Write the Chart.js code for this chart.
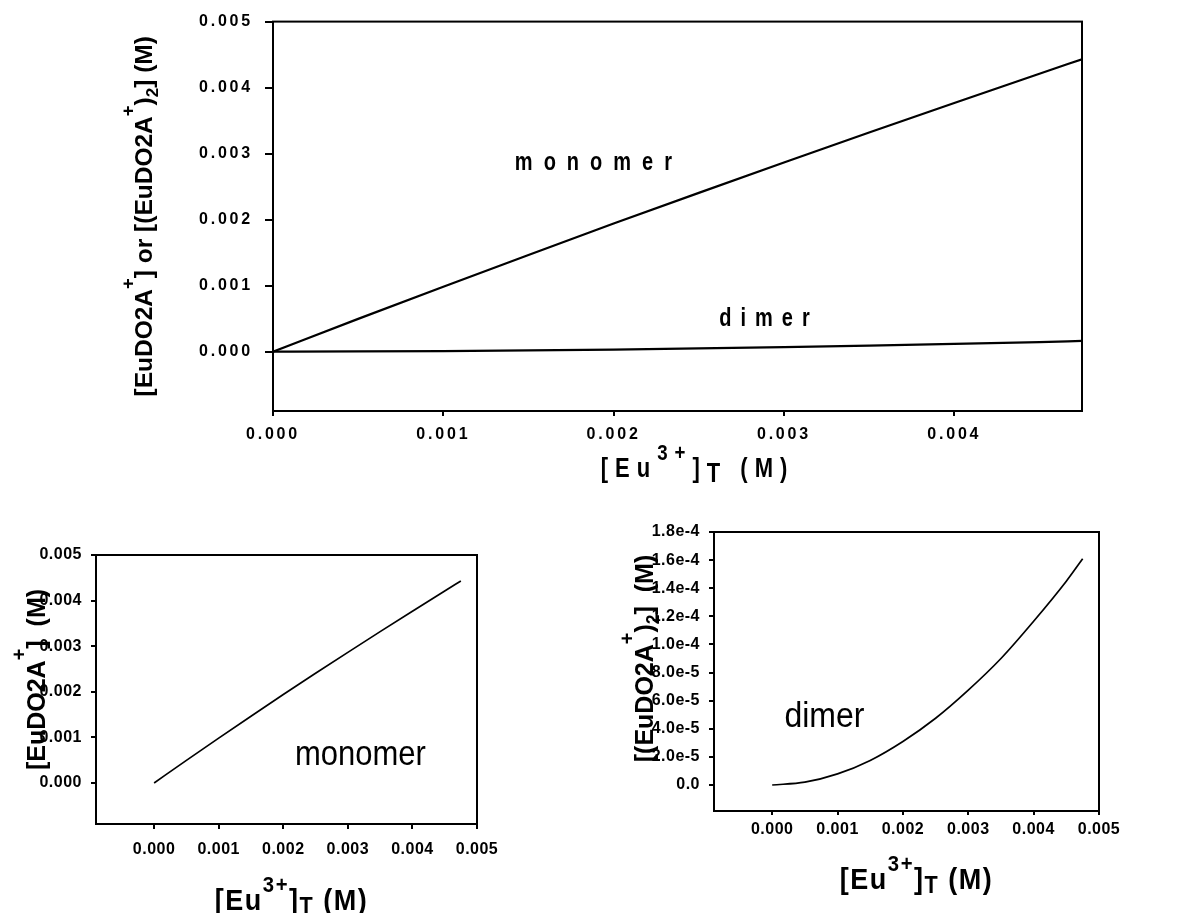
<!DOCTYPE html>
<html>
<head>
<meta charset="utf-8">
<script src="https://cdn.jsdelivr.net/npm/chart.js@4/dist/chart.umd.min.js"></script>
<style>
  body { margin: 0; background: #fff; }
  #wrap { position: relative; width: 1204px; height: 913px; overflow: hidden; }
  canvas { position: absolute; }
</style>
</head>
<body>
<div id="wrap">
  <canvas id="bothChart" width="1204" height="490" style="left:0;top:0"></canvas>
  <canvas id="monoChart" width="600" height="423" style="left:0;top:490px"></canvas>
  <canvas id="dimerChart" width="604" height="423" style="left:600px;top:490px"></canvas>
</div>
<script>
// total europium, [Eu3+]T (M)
const euTotal = [0, 0.0005, 0.001, 0.0015, 0.002, 0.0025, 0.003, 0.0035, 0.004, 0.0045, 0.00475];
// [EuDO2A+] (M)
const monomer = [0, 0.000496, 0.000984, 0.001465, 0.00194, 0.002405, 0.002865, 0.00332, 0.003767, 0.00421, 0.00443];
// [(EuDO2A+)2] (M)
const dimer = [0, 2.0e-6, 7.9e-6, 1.75e-5, 3.1e-5, 4.75e-5, 6.75e-5, 9.0e-5, 1.165e-4, 1.45e-4, 1.61e-4];

const topXTicks = [0, 0.001, 0.002, 0.003, 0.004];
const topXLabels = ['0.000', '0.001', '0.002', '0.003', '0.004'];
const concTicks = [0, 0.001, 0.002, 0.003, 0.004, 0.005];
const concLabels = ['0.000', '0.001', '0.002', '0.003', '0.004', '0.005'];
const dimerTicks = [0, 2e-5, 4e-5, 6e-5, 8e-5, 1e-4, 1.2e-4, 1.4e-4, 1.6e-4, 1.8e-4];
const dimerLabels = ['0.0', '2.0e-5', '4.0e-5', '6.0e-5', '8.0e-5', '1.0e-4', '1.2e-4', '1.4e-4', '1.6e-4', '1.8e-4'];

const FONT = '"Liberation Sans", Arimo, sans-serif';

// draws text made of normal / superscript / subscript pieces
function drawRich(ctx, parts, x, y, o) {
  ctx.save();
  ctx.translate(x, y);
  if (o.rotate) ctx.rotate(o.rotate);
  if (o.scaleY) ctx.scale(1, o.scaleY);
  ctx.letterSpacing = (o.ls || 0) + 'px';
  ctx.fillStyle = '#000';
  ctx.textBaseline = 'alphabetic';
  ctx.textAlign = 'left';
  const weight = o.weight || 'bold';
  const sizeOf = k => k === 'sup' ? o.size * (o.supScale || 0.75) : k === 'sub' ? o.size * (o.subScale || 0.75) : o.size;
  const fontOf = k => weight + ' ' + sizeOf(k).toFixed(1) + 'px ' + FONT;
  let w = 0;
  parts.forEach(p => { ctx.font = fontOf(p[1]); w += ctx.measureText(p[0]).width; });
  let cx = o.align === 'left' ? 0 : -w / 2;
  parts.forEach(p => {
    ctx.font = fontOf(p[1]);
    const dy = p[1] === 'sup' ? o.size * (o.supDy || -0.6) : p[1] === 'sub' ? o.size * (o.subDy || 0.2) : 0;
    ctx.fillText(p[0], cx, dy);
    cx += ctx.measureText(p[0]).width;
  });
  ctx.restore();
}

const euTitle = [['[Eu', 'n'], ['3+', 'sup'], [']', 'n'], ['T', 'sub'], [' (M)', 'n']];

function makeChart(id, cfg) {
  const textPlugin = {
    id: 'texts',
    beforeDraw(chart) { chart.ctx.letterSpacing = cfg.tickLs + 'px'; },
    afterDraw(chart) {
      const ctx = chart.ctx;
      const a = chart.chartArea;
      ctx.letterSpacing = '0px';
      ctx.save();
      ctx.strokeStyle = '#000';
      ctx.lineWidth = cfg.frameWidth;
      ctx.strokeRect(a.left, a.top, a.right - a.left, a.bottom - a.top);
      ctx.restore();
      const xt = cfg.xTitle;
      drawRich(ctx, xt.parts, (a.left + a.right) / 2 + xt.dx, a.bottom + xt.dy, xt);
      const yt = cfg.yTitle;
      drawRich(ctx, yt.parts, a.left + yt.dx, (a.top + a.bottom) / 2 + yt.dy, Object.assign({ rotate: -Math.PI / 2 }, yt));
      cfg.notes.forEach(n => {
        drawRich(ctx, [[n.text, 'n']], chart.scales.x.getPixelForValue(n.x), chart.scales.y.getPixelForValue(n.y),
          Object.assign({ align: 'left' }, n));
      });
    }
  };
  const axis = (ax, ticks, labels) => ({
    type: 'linear',
    min: ax.min,
    max: ax.max,
    afterBuildTicks: s => { s.ticks = ticks.map(v => ({ value: v })); },
    afterFit: s => { if (ax.width) s.width = ax.width; if (ax.height) s.height = ax.height; },
    ticks: {
      autoSkip: false,
      maxRotation: 0,
      color: '#000',
      padding: ax.pad,
      font: { family: FONT, size: cfg.tickSize, weight: 'bold' },
      callback: (v, i) => labels[i]
    },
    grid: { drawOnChartArea: false, color: '#000', lineWidth: cfg.frameWidth, tickLength: ax.tick },
    border: { color: '#000', width: cfg.frameWidth }
  });
  return new Chart(document.getElementById(id), {
    type: 'line',
    data: {
      datasets: cfg.series.map(s => ({
        data: euTotal.map((x, i) => ({ x: x, y: s[i] })),
        borderColor: '#000',
        borderWidth: cfg.lineWidth,
        pointRadius: 0,
        fill: false,
        cubicInterpolationMode: 'monotone'
      }))
    },
    options: {
      responsive: false,
      animation: false,
      layout: { padding: cfg.padding },
      plugins: { legend: { display: false }, tooltip: { enabled: false } },
      scales: {
        x: axis(cfg.x, cfg.x.ticks, cfg.x.labels),
        y: axis(cfg.y, cfg.y.ticks, cfg.y.labels)
      }
    },
    plugins: [textPlugin]
  });
}

// top: monomer and dimer together
makeChart('bothChart', {
  series: [monomer, dimer],
  lineWidth: 2.2, frameWidth: 2, tickSize: 16, tickLs: 2.8,
  padding: { left: 0, top: 16, right: 122, bottom: 0 },
  x: { min: 0, max: 0.00475, ticks: topXTicks, labels: topXLabels, height: 79, tick: 5, pad: 9 },
  y: { min: -0.0009, max: 0.005, ticks: concTicks, labels: concLabels, width: 273, tick: 8, pad: 12 },
  xTitle: { parts: euTitle, size: 22, ls: 7, scaleY: 1.22, supScale: 0.85, supDy: -0.62, subScale: 1, subDy: 0.2, dx: 20, dy: 66 },
  yTitle: { parts: [['[EuDO2A', 'n'], ['+', 'sup'], ['] or [(EuDO2A', 'n'], ['+', 'sup'], [')', 'n'], ['2', 'sub'], ['] (M)', 'n']],
            size: 24.5, supScale: 0.75, supDy: -0.72, subScale: 0.7, subDy: 0.25, dx: -121, dy: 0 },
  notes: [
    { text: 'monomer', x: 0.00142, y: 0.00275, size: 20, ls: 11, scaleY: 1.3 },
    { text: 'dimer', x: 0.00262, y: 0.00039, size: 20, ls: 9, scaleY: 1.3 }
  ]
});

// bottom left: monomer
makeChart('monoChart', {
  series: [monomer],
  lineWidth: 1.7, frameWidth: 2, tickSize: 16, tickLs: 0.5,
  padding: { left: 0, top: 65, right: 123, bottom: 0 },
  x: { min: -0.0009, max: 0.005, ticks: concTicks, labels: concLabels, height: 89, tick: 5, pad: 11 },
  y: { min: -0.0009, max: 0.005, ticks: concTicks, labels: concLabels, width: 96, tick: 5, pad: 9 },
  xTitle: { parts: euTitle, size: 27, ls: 1.5, scaleY: 1.1, supScale: 0.75, supDy: -0.6, subScale: 0.8, subDy: 0.12, dx: 5, dy: 86 },
  yTitle: { parts: [['[EuDO2A', 'n'], ['+', 'sup'], [']  (M)', 'n']],
            size: 25, supScale: 0.8, supDy: -0.76, dx: -51, dy: -10 },
  notes: [
    { text: 'monomer', x: 0.00218, y: 0.000395, size: 31, weight: 'normal', scaleY: 1.12 }
  ]
});

// bottom right: dimer
makeChart('dimerChart', {
  series: [dimer],
  lineWidth: 1.7, frameWidth: 2, tickSize: 16, tickLs: 0.5,
  padding: { left: 0, top: 42, right: 105, bottom: 0 },
  x: { min: -0.00089, max: 0.005, ticks: concTicks, labels: concLabels, height: 102, tick: 4, pad: 5 },
  y: { min: -1.85e-5, max: 1.8e-4, ticks: dimerTicks, labels: dimerLabels, width: 114, tick: 5, pad: 9 },
  xTitle: { parts: euTitle, size: 27, ls: 1.5, scaleY: 1.1, supScale: 0.75, supDy: -0.6, subScale: 0.8, subDy: 0.12, dx: 10, dy: 78 },
  yTitle: { parts: [['[(EuDO2A', 'n'], ['+', 'sup'], [')', 'n'], ['2', 'sub'], [']  (M)', 'n']],
            size: 25, supScale: 0.8, supDy: -0.76, subScale: 0.7, subDy: 0.22, dx: -61, dy: -13 },
  notes: [
    { text: 'dimer', x: 0.000188, y: 4.12e-5, size: 32, weight: 'normal', scaleY: 1.12 }
  ]
});
</script>
</body>
</html>
